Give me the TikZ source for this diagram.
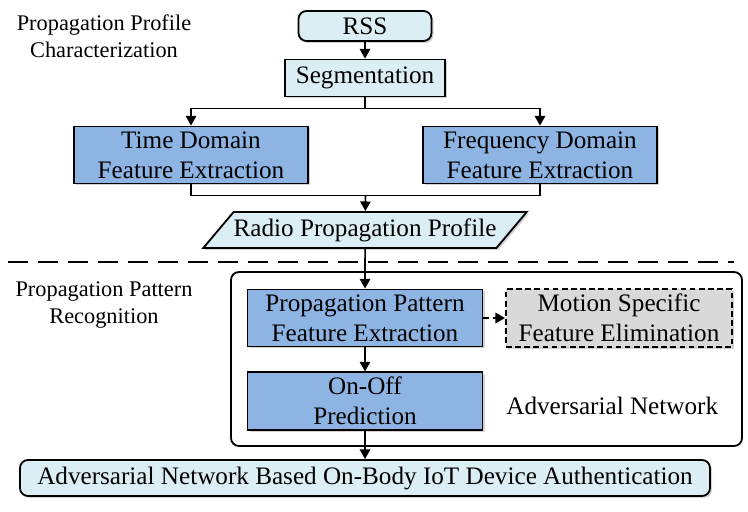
\documentclass[tikz,border=0pt]{standalone}
\usepackage{fontspec}
\setmainfont{Liberation Serif}
\usepackage{tikz}
\usepackage{xcolor}
\usetikzlibrary{shapes,arrows.meta,positioning,fit,backgrounds,shadows,calc}
\definecolor{sketchlight}{RGB}{219,238,244}
\definecolor{sketchblue}{RGB}{141,180,226}
\definecolor{sketchgray}{RGB}{217,217,217}

\tikzset{
    boxshadow/.style={drop shadow={shadow xshift=0.05cm, shadow yshift=-0.05cm, opacity=0.35}},
    boxfont/.style={font=\fontsize{17.9}{21.3}\selectfont},
    lightbox/.style={draw, line width=1.3pt, fill=sketchlight, boxshadow, boxfont, align=center},
    bluebox/.style={draw, line width=1.3pt, fill=sketchblue, boxshadow, boxfont, align=center, minimum width=5.85cm, minimum height=1.425cm},
    flow/.style={-{Triangle[length=0.24cm,width=0.26cm]}, line width=1.1pt},
}

\begin{document}
\begin{tikzpicture}[node distance=1.3cm]
        \useasboundingbox (0,0) rectangle (18.7,-12.8);

        % Propagation profile characterization
        \node [lightbox, rounded corners=0.2cm, minimum width=3.325cm, minimum height=0.75cm] (rss) at (9.125,-0.65) {RSS};
        \node [lightbox, below of=rss, minimum width=4cm, minimum height=0.925cm] (seg) {Segmentation};
        \node [bluebox, below of=seg, yshift=-0.625cm, xshift=-4.35cm] (time) {Time Domain\\Feature Extraction};
        \node [bluebox, below of=seg, yshift=-0.625cm, xshift=4.375cm] (freq) {Frequency Domain\\Feature Extraction};
        \node [lightbox, trapezium, trapezium left angle=47, trapezium right angle=133, trapezium stretches=true, below of=seg, yshift=-2.5cm, minimum width=8.075cm, minimum height=0.9cm, inner xsep=0pt] (profile) {Radio Propagation Profile};

        % Propagation pattern recognition
        \node [bluebox, below of=profile, yshift=-0.9cm, minimum width=5.875cm] (ppfe) {Propagation Pattern\\Feature Extraction};
        \node [bluebox, right of=ppfe, xshift=5.05cm, fill=sketchgray, dash pattern=on 4pt off 2.5pt, minimum width=5.65cm] (msfe) {Motion Specific\\Feature Elimination};
        \node [bluebox, below of=ppfe, yshift=-0.775cm, minimum width=5.875cm] (onoff) {On-Off\\Prediction};
        \node [boxfont, right=0.45cm of onoff, yshift=-0.125cm] (advlabel) {Adversarial Network};
        \node [lightbox, rounded corners=0.2cm, below of=onoff, yshift=-0.625cm, minimum width=17.25cm, minimum height=0.9cm] (auth) {Adversarial Network Based On-Body IoT Device Authentication};
        \begin{scope}[on background layer]
            \node [draw, line width=1.3pt, rounded corners=0.2cm, minimum width=12.775cm, minimum height=4.35cm] (advnet) at (12.1625,-8.975) {};
        \end{scope}

        % Stage labels
        \node [font=\fontsize{15.9}{19.2}\selectfont, align=center] (stage1) at (2.6,-0.9) {Propagation Profile\\Characterization};
        \node [font=\fontsize{15.9}{19.2}\selectfont, align=center] (stage2) at (2.6,-7.625) {Propagation Pattern\\Recognition};

        % Separator
        \coordinate (sepL) at (0.2,-6.55);
        \coordinate (sepR) at (18.35,-6.55);
        \draw [line width=1.1pt, dash pattern=on 0.5cm off 0.25cm] (sepL) -- (sepR);

        % Arrows
        \coordinate (merge) at ([yshift=-0.275cm]$(time.south)!0.5!(freq.south)$);
        \draw [flow] (rss) -- (seg);
        \draw [flow] (seg.south) -- ++(0,-0.275) -| (time.north);
        \draw [flow] (seg.south) -- ++(0,-0.275) -| (freq.north);
        \draw [line width=1.1pt] (time.south) -- ++(0,-0.275) -| (freq.south);
        \draw [flow] (merge) -- (profile);
        \draw [flow] (profile) -- (ppfe);
        \draw [flow, dash pattern=on 4pt off 2.5pt] (ppfe) -- (msfe);
        \draw [flow] (ppfe) -- (onoff);
        \draw [flow] (onoff) -- (auth);
    \end{tikzpicture}
\end{document}
